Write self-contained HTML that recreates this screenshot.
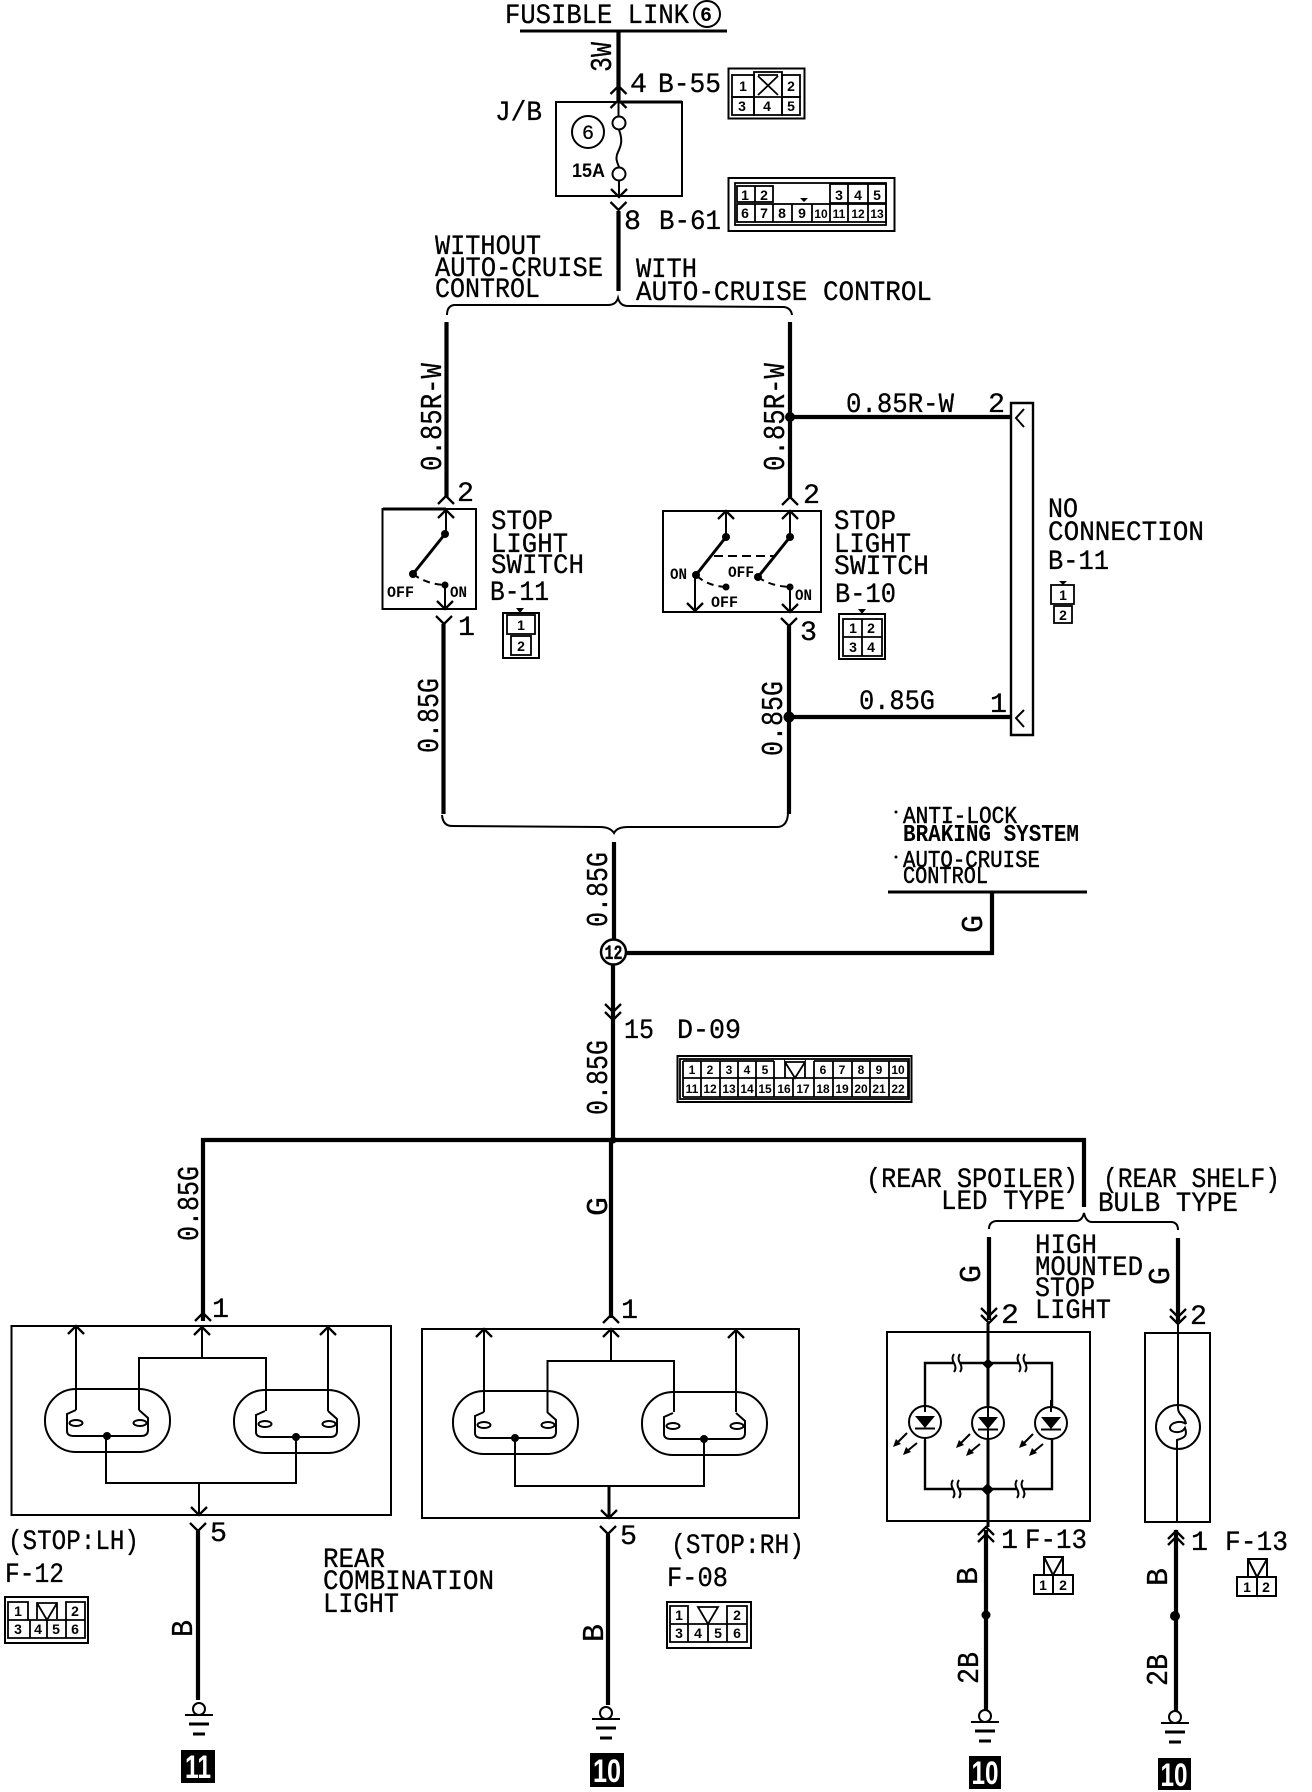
<!DOCTYPE html>
<html><head><meta charset="utf-8"><title>Stop light circuit diagram</title>
<style>
html,body{margin:0;padding:0;background:#fff}
svg{display:block}
text{font-family:"Liberation Mono",monospace;font-size:28px;fill:#000;stroke:#000;stroke-width:.3}
.r{font-size:31px}
.s{font-size:24px;font-weight:bold;stroke:none}
.d{font-family:"Liberation Sans",sans-serif;font-size:14px;font-weight:bold;text-anchor:middle;stroke:none}
.o{font-family:"Liberation Mono",monospace;font-size:16px;font-weight:bold;stroke:none}
.w{font-family:"Liberation Sans",sans-serif;font-size:32px;font-weight:bold;fill:#fff;stroke:none;text-anchor:middle}
.l{fill:none;stroke:#000;stroke-width:2}
.t{fill:none;stroke:#000;stroke-width:4.2}
.m{fill:none;stroke:#000;stroke-width:3}
.c{fill:none;stroke:#000;stroke-width:1.8}
.a{fill:none;stroke:#000;stroke-width:2.3}
</style></head><body>
<svg xmlns="http://www.w3.org/2000/svg" width="1312" height="1792" viewBox="0 0 1312 1792">
<defs>
<path id="v" class="a" d="M-8,-8 L0,0 L8,-8"/>
<path id="u" class="a" d="M-8,8 L0,0 L8,8"/>
<g id="sq"><rect x="-3" y="-5" width="6" height="10" fill="#fff"/><path class="l" d="M-3,-9 Q-6,-5 -3,0 Q0,5 -3,9 M3,-9 Q0,-5 3,0 Q6,5 3,9"/></g>
<g id="bulb">
<rect class="l" x="45" y="1389" width="125" height="63" rx="31" ry="31"/>
<path class="l" d="M76,1410 L67,1414 V1431 Q67,1436 74,1436 H141 Q148,1436 148,1430 V1418 L139,1410"/>
<ellipse class="l" cx="76" cy="1423" rx="6.5" ry="3"/><ellipse class="l" cx="140" cy="1423" rx="6.5" ry="3"/>
<circle cx="107" cy="1436" r="4"/>
</g>
<g id="led">
<circle class="l" r="16"/>
<path d="M-10,-6 H10 L0,6 Z"/>
<path class="l" d="M-10,6.5 H10"/>
<path class="l" d="M-18,11 L-29,22"/><path d="M-32,25 L-29,17 L-24,22 Z"/>
<path class="l" d="M-8,21 L-19,30"/><path d="M-22,33 L-19,25 L-14,30 Z"/>
</g>
<g id="gnd">
<path class="l" d="M-14,0 H14"/>
<path class="m" d="M-10,9 H10"/>
<path class="m" d="M-6,19 H6"/>
<circle class="l" cx="0" cy="-6" r="6" fill="#fff"/>
</g>
</defs>
<rect width="1312" height="1792" fill="#fff"/>

<!-- Top -->
<text x="505" y="23" textLength="184" lengthAdjust="spacingAndGlyphs">FUSIBLE LINK</text>
<circle class="l" cx="707" cy="14" r="13"/><text x="700" y="21" class="s" style="font-size:20px" >6</text>
<path class="m" d="M520,31 H727"/>
<path class="t" d="M618.5,31 V100"/>
<text class="r" transform="translate(611,72) rotate(-90)" textLength="30" lengthAdjust="spacingAndGlyphs">3W</text>
<use href="#u" x="618.5" y="86"/><use href="#u" x="618.5" y="100"/>
<text x="630" y="92" textLength="17" lengthAdjust="spacingAndGlyphs">4</text>
<text x="658" y="92" textLength="63" lengthAdjust="spacingAndGlyphs">B-55</text>
<text x="495" y="120" textLength="47" lengthAdjust="spacingAndGlyphs">J/B</text>
<!-- B-55 -->
<g class="c"><rect class="m" style="stroke-width:2" x="728.5" y="68.5" width="76" height="50"/>
<rect class="c" x="732" y="75" width="22" height="22"/><rect class="c" x="754" y="72" width="28" height="43"/><rect class="c" x="782" y="75" width="18" height="22"/>
<rect class="c" x="732" y="97" width="22" height="18"/><rect class="c" x="782" y="97" width="18" height="18"/>
<path class="c" d="M754,97 H782 M758,76 L778,95 M778,76 L758,95 M758,75 H778"/></g>
<text class="d" x="743" y="91">1</text><text class="d" x="791" y="91">2</text><text class="d" x="742" y="111">3</text><text class="d" x="767" y="111">4</text><text class="d" x="791" y="111">5</text>
<!-- J/B -->
<rect class="l" x="556" y="102" width="126" height="94"/><path class="m" d="M618,102 H682"/>
<circle class="l" cx="588" cy="132" r="16"/><text x="582" y="139" style="font-size:20px">6</text>
<path class="l" d="M618.5,100 V116 M619,130 C623,140 621,146 618,152 C615,158 617,162 619,167 M619,181 V197"/>
<circle class="l" cx="619" cy="123" r="6.5"/><circle class="l" cx="619" cy="174" r="6.5"/>
<text class="s" x="572" y="177" textLength="33" lengthAdjust="spacingAndGlyphs" style="font-family:'Liberation Sans',sans-serif;font-size:19px">15A</text>
<use href="#v" x="619" y="197"/><use href="#v" x="618.5" y="210"/>
<path class="t" d="M618.5,211 V291"/>
<text x="624" y="229" textLength="17" lengthAdjust="spacingAndGlyphs">8</text>
<text x="659" y="229" textLength="62" lengthAdjust="spacingAndGlyphs">B-61</text>
<!-- B-61 -->
<rect class="l" x="728.5" y="178" width="166" height="53"/>
<rect class="c" x="735" y="183" width="151" height="42"/>
<g class="c"><rect class="c" x="737" y="186" width="36" height="16"/><path class="c" d="M755,186 V202"/>
<rect class="c" x="830" y="184" width="56" height="19"/><path class="c" d="M848,184 V203 M868,184 V203"/>
<rect class="c" x="737" y="204" width="149" height="18"/><path class="c" d="M755,204 V222 M773,204 V222 M792,204 V222 M812,204 V222 M830,204 V222 M848,204 V222 M868,204 V222"/></g>
<path d="M800,198 H808 L804,202 Z"/>
<text class="d" x="745" y="200">1</text><text class="d" x="764" y="200">2</text>
<text class="d" x="839" y="200">3</text><text class="d" x="858" y="200">4</text><text class="d" x="877" y="200">5</text>
<text class="d" x="745" y="218">6</text><text class="d" x="764" y="218">7</text><text class="d" x="782" y="218">8</text><text class="d" x="802" y="218">9</text><text class="d" x="821" y="218" style="font-size:12px">10</text><text class="d" x="839" y="218" style="font-size:12px">11</text><text class="d" x="858" y="218" style="font-size:12px">12</text><text class="d" x="877" y="218" style="font-size:12px">13</text>

<text x="435" y="254" textLength="106" lengthAdjust="spacingAndGlyphs">WITHOUT</text>
<text x="435" y="276" textLength="168" lengthAdjust="spacingAndGlyphs">AUTO-CRUISE</text>
<text x="435" y="297" textLength="105" lengthAdjust="spacingAndGlyphs">CONTROL</text>
<text x="636" y="277" textLength="61" lengthAdjust="spacingAndGlyphs">WITH</text>
<text x="636" y="300" textLength="296" lengthAdjust="spacingAndGlyphs">AUTO-CRUISE CONTROL</text>
<path class="l" d="M447,315 Q447,306 454,305 L608,305 Q616,305 618,298 Q620,306 628,306 L784,307 Q791,308 792,315"/>

<!-- Switch row wires -->
<path class="t" d="M446.5,322 V497"/><path class="t" d="M790,322 V497"/>
<text class="r" transform="translate(441,471) rotate(-90)" textLength="108" lengthAdjust="spacingAndGlyphs">0.85R-W</text>
<text class="r" transform="translate(784,471) rotate(-90)" textLength="108" lengthAdjust="spacingAndGlyphs">0.85R-W</text>
<path class="t" d="M790,417 H1010"/><circle cx="790" cy="417" r="5"/>
<text x="846" y="412" textLength="108" lengthAdjust="spacingAndGlyphs">0.85R-W</text>
<text x="988" y="412" textLength="17" lengthAdjust="spacingAndGlyphs">2</text>
<path class="m" style="stroke-width:2.4" d="M1011,735 V403 H1033 V735 Z"/>
<path class="l" d="M1024,409 L1016,418 L1024,427"/>
<path class="l" d="M1024,710 L1016,718 L1024,727"/>
<text x="1048" y="517" textLength="30" lengthAdjust="spacingAndGlyphs">NO</text>
<text x="1048" y="540" textLength="156" lengthAdjust="spacingAndGlyphs">CONNECTION</text>
<text x="1048" y="569" textLength="61" lengthAdjust="spacingAndGlyphs">B-11</text>
<path d="M1059,581 H1067 L1063,585 Z"/>
<rect class="c" x="1051" y="585" width="23" height="19"/><rect class="c" x="1054" y="606" width="18" height="17"/>
<text class="d" x="1063" y="600">1</text><text class="d" x="1063" y="620">2</text>

<!-- Left switch -->
<rect class="l" x="382.5" y="509" width="93.5" height="100"/><path class="m" d="M383,509 H446"/>
<use href="#u" x="446" y="496"/><use href="#u" x="446" y="510"/>
<text x="457" y="501" textLength="17" lengthAdjust="spacingAndGlyphs">2</text>
<path class="l" d="M446,510 V534"/><circle cx="445" cy="534" r="4"/>
<path class="m" d="M445,534 L413,574"/><circle cx="413" cy="574" r="4"/>
<path class="l" stroke-dasharray="7 5" d="M413,574 Q426,584 445,585"/><circle cx="445" cy="585" r="3.5"/>
<path class="l" d="M445,585 V609"/>
<text class="o" x="387" y="597" textLength="27" lengthAdjust="spacingAndGlyphs">OFF</text>
<text class="o" x="450" y="597" textLength="17" lengthAdjust="spacingAndGlyphs">ON</text>
<use href="#v" x="445" y="609"/><use href="#v" x="444" y="624"/>
<text x="458" y="635" textLength="17" lengthAdjust="spacingAndGlyphs">1</text>
<path class="t" d="M443.5,624 V814"/>
<text x="491" y="529" textLength="62" lengthAdjust="spacingAndGlyphs">STOP</text>
<text x="491" y="552" textLength="77" lengthAdjust="spacingAndGlyphs">LIGHT</text>
<text x="491" y="573" textLength="93" lengthAdjust="spacingAndGlyphs">SWITCH</text>
<text x="490" y="600" textLength="59" lengthAdjust="spacingAndGlyphs">B-11</text>
<path d="M516,608 H524 L520,613 Z"/>
<rect class="l" x="503" y="613" width="36" height="45"/>
<rect class="c" x="507" y="615" width="28" height="19"/><rect class="c" x="511" y="636" width="20" height="19"/>
<text class="d" x="521" y="630">1</text><text class="d" x="521" y="651">2</text>
<text class="r" transform="translate(438,753) rotate(-90)" textLength="75" lengthAdjust="spacingAndGlyphs">0.85G</text>

<!-- Right switch -->
<rect class="l" x="663" y="511" width="158" height="101"/>
<use href="#u" x="790" y="497"/><use href="#u" x="790" y="511"/><use href="#u" x="726" y="511"/>
<text x="803" y="503" textLength="17" lengthAdjust="spacingAndGlyphs">2</text>
<path class="l" d="M726,512 V537 M790,512 V537 M695,575 V611 M790,587 V612"/>
<circle cx="726" cy="537" r="4"/><circle cx="790" cy="537" r="4"/>
<path class="m" d="M726,537 L696,575 M790,537 L758,577"/>
<circle cx="696" cy="575" r="4"/><circle cx="758" cy="577" r="4"/>
<path class="l" stroke-dasharray="9 5" d="M714,556 H774"/>
<path class="l" stroke-dasharray="7 5" d="M697,576 Q708,586 726,587 M758,577 Q770,586 790,587"/>
<circle cx="726" cy="587" r="3.5"/><circle cx="790" cy="587" r="3.5"/>
<use href="#v" x="695" y="611"/><use href="#v" x="790" y="612"/><use href="#v" x="789" y="626"/>
<text class="o" x="670" y="579" textLength="17" lengthAdjust="spacingAndGlyphs">ON</text>
<text class="o" x="728" y="577" textLength="26" lengthAdjust="spacingAndGlyphs">OFF</text>
<text class="o" x="711" y="607" textLength="27" lengthAdjust="spacingAndGlyphs">OFF</text>
<text class="o" x="795" y="600" textLength="17" lengthAdjust="spacingAndGlyphs">ON</text>
<text x="800" y="640" textLength="17" lengthAdjust="spacingAndGlyphs">3</text>
<path class="t" d="M789,626 V814"/>
<text x="834" y="529" textLength="62" lengthAdjust="spacingAndGlyphs">STOP</text>
<text x="834" y="552" textLength="77" lengthAdjust="spacingAndGlyphs">LIGHT</text>
<text x="834" y="574" textLength="95" lengthAdjust="spacingAndGlyphs">SWITCH</text>
<text x="835" y="602" textLength="61" lengthAdjust="spacingAndGlyphs">B-10</text>
<path d="M858,609 H866 L862,614 Z"/>
<rect class="l" x="839" y="614" width="46" height="45"/>
<rect class="c" x="843" y="619" width="39" height="37"/><path class="c" d="M862,619 V656 M843,637 H882"/>
<text class="d" x="853" y="633">1</text><text class="d" x="871" y="633">2</text><text class="d" x="853" y="652">3</text><text class="d" x="871" y="652">4</text>
<text class="r" transform="translate(782,756) rotate(-90)" textLength="75" lengthAdjust="spacingAndGlyphs">0.85G</text>
<path class="t" d="M789,717 H1010"/><circle cx="789" cy="717" r="5.5"/>
<text x="859" y="709" textLength="76" lengthAdjust="spacingAndGlyphs">0.85G</text>
<text x="990" y="712" textLength="17" lengthAdjust="spacingAndGlyphs">1</text>

<!-- Lower brace & junction -->
<path class="l" d="M442,815 Q443,826 452,826 L600,827 Q610,827 614,833 Q617,827 628,827 L778,827 Q788,826 788,812"/>
<path class="t" d="M614,842 V940 M613,965 V1140"/>
<text class="r" transform="translate(607,927) rotate(-90)" textLength="75" lengthAdjust="spacingAndGlyphs">0.85G</text>
<circle cx="613.5" cy="952" r="12.5" fill="#fff" stroke="#000" stroke-width="2.5"/>
<text x="604.5" y="959" textLength="18" lengthAdjust="spacingAndGlyphs" style="font-size:20px;font-weight:bold">12</text>
<path class="t" d="M626,953 H992 V893"/>
<path class="m" d="M888,892 H1087"/>
<text class="r" transform="translate(982,933) rotate(-90)" textLength="18" lengthAdjust="spacingAndGlyphs">G</text>
<circle cx="896" cy="812" r="1.5"/><circle cx="896" cy="857" r="1.5"/>
<text class="s" x="903" y="823" textLength="114" lengthAdjust="spacingAndGlyphs" style="font-weight:normal;stroke:#000;stroke-width:.5">ANTI-LOCK</text>
<text class="s" x="903" y="841" textLength="176" lengthAdjust="spacingAndGlyphs">BRAKING SYSTEM</text>
<text class="s" x="903" y="867" textLength="137" lengthAdjust="spacingAndGlyphs" style="font-weight:normal;stroke:#000;stroke-width:.5">AUTO-CRUISE</text>
<text class="s" x="903" y="883" textLength="85" lengthAdjust="spacingAndGlyphs" style="font-weight:normal;stroke:#000;stroke-width:.5">CONTROL</text>

<use href="#v" x="613" y="1012"/><use href="#v" x="613" y="1020"/>
<text x="624" y="1038" textLength="30" lengthAdjust="spacingAndGlyphs">15</text>
<text x="677" y="1038" textLength="64" lengthAdjust="spacingAndGlyphs">D-09</text>
<text class="r" transform="translate(607,1115) rotate(-90)" textLength="75" lengthAdjust="spacingAndGlyphs">0.85G</text>
<!-- D-09 -->
<rect class="l" x="677.5" y="1056" width="234" height="46"/>
<rect class="c" x="680" y="1059" width="229" height="40"/>
<path class="c" d="M683,1078 H908 M683,1061 H774 M814,1061 H908 M683,1061 V1097 M701,1061 V1097 M720,1061 V1097 M738,1061 V1097 M756,1061 V1097 M774,1061 V1097 M793,1078 V1097 M814,1061 V1097 M833,1061 V1097 M852,1061 V1097 M870,1061 V1097 M889,1061 V1097 M908,1061 V1097 M683,1097 H908"/>
<path class="c" d="M785,1078 V1062 L795,1078 L805,1062 V1078 M785,1062 H805"/>
<g style="font-size:12px"><text class="d" style="font-size:12px" x="692" y="1074">1</text><text class="d" style="font-size:12px" x="710" y="1074">2</text><text class="d" style="font-size:12px" x="729" y="1074">3</text><text class="d" style="font-size:12px" x="747" y="1074">4</text><text class="d" style="font-size:12px" x="765" y="1074">5</text><text class="d" style="font-size:12px" x="823" y="1074">6</text><text class="d" style="font-size:12px" x="842" y="1074">7</text><text class="d" style="font-size:12px" x="861" y="1074">8</text><text class="d" style="font-size:12px" x="879" y="1074">9</text><text class="d" style="font-size:12px" x="898" y="1074">10</text>
<text class="d" style="font-size:12px" x="692" y="1093">11</text><text class="d" style="font-size:12px" x="710" y="1093">12</text><text class="d" style="font-size:12px" x="729" y="1093">13</text><text class="d" style="font-size:12px" x="747" y="1093">14</text><text class="d" style="font-size:12px" x="765" y="1093">15</text><text class="d" style="font-size:12px" x="784" y="1093">16</text><text class="d" style="font-size:12px" x="803" y="1093">17</text><text class="d" style="font-size:12px" x="823" y="1093">18</text><text class="d" style="font-size:12px" x="842" y="1093">19</text><text class="d" style="font-size:12px" x="861" y="1093">20</text><text class="d" style="font-size:12px" x="879" y="1093">21</text><text class="d" style="font-size:12px" x="898" y="1093">22</text></g>

<!-- Bus -->
<path class="t" d="M203,1321 V1140 H1084 V1207"/>
<circle cx="613" cy="1140" r="3.5"/>
<path class="t" d="M611,1140 V1318"/>
<text class="r" transform="translate(198,1241) rotate(-90)" textLength="75" lengthAdjust="spacingAndGlyphs">0.85G</text>
<text class="r" transform="translate(607,1216) rotate(-90)" textLength="19" lengthAdjust="spacingAndGlyphs">G</text>
<text x="212" y="1317" textLength="17" lengthAdjust="spacingAndGlyphs">1</text>
<text x="621" y="1318" textLength="17" lengthAdjust="spacingAndGlyphs">1</text>

<!-- Left lamp -->
<rect class="l" x="11.5" y="1326" width="379.5" height="189"/>
<use href="#u" x="203" y="1313"/><use href="#u" x="202" y="1327"/><use href="#u" x="76" y="1326"/><use href="#u" x="328" y="1327"/>
<path class="l" d="M76,1326 V1410 M202,1327 V1358 M328,1327 V1411 M139,1410 V1358 H266 V1411 M106,1436 V1483 H296 V1437 M199,1483 V1515"/>
<use href="#bulb"/><use href="#bulb" x="189" y="1"/>
<use href="#v" x="199" y="1515"/><use href="#v" x="198" y="1531"/>
<path class="t" d="M198,1531 V1700"/>
<text x="210" y="1541" textLength="17" lengthAdjust="spacingAndGlyphs">5</text>
<text x="8" y="1549" textLength="131" lengthAdjust="spacingAndGlyphs">(STOP:LH)</text>
<text x="5" y="1582" textLength="59" lengthAdjust="spacingAndGlyphs">F-12</text>
<rect class="l" x="5" y="1597" width="83" height="46"/>
<path class="c" d="M8,1602 H28 V1620 H8 Z M66,1602 H85 V1620 H66 Z M8,1620 H85 V1638 H8 Z M30,1620 V1638 M47,1620 V1638 M66,1620 V1638"/>
<path class="c" d="M37,1619 V1603 H57 V1619 M37,1603 L47,1620 L57,1603"/>
<text class="d" x="18" y="1616">1</text><text class="d" x="75" y="1616">2</text><text class="d" x="18" y="1634">3</text><text class="d" x="38" y="1634">4</text><text class="d" x="56" y="1634">5</text><text class="d" x="75" y="1634">6</text>
<text x="323" y="1567" textLength="62" lengthAdjust="spacingAndGlyphs">REAR</text>
<text x="323" y="1589" textLength="171" lengthAdjust="spacingAndGlyphs">COMBINATION</text>
<text x="323" y="1612" textLength="76" lengthAdjust="spacingAndGlyphs">LIGHT</text>
<text class="r" transform="translate(192,1637) rotate(-90)" textLength="17" lengthAdjust="spacingAndGlyphs">B</text>
<use href="#gnd" x="199" y="1715"/>
<rect x="181" y="1750" width="34" height="33"/><text class="w" x="198" y="1778" textLength="26" lengthAdjust="spacingAndGlyphs">11</text>

<!-- Right lamp -->
<rect class="l" x="422" y="1329" width="377" height="189"/>
<use href="#u" x="611" y="1315"/><use href="#u" x="611" y="1329"/><use href="#u" x="484" y="1329"/><use href="#u" x="736" y="1330"/>
<path class="l" d="M484,1329 V1412 M736,1330 V1412 M611,1329 V1361 M547.5,1412 V1361 H674 V1412 M515,1438 V1486 H704 V1439"/>
<path class="m" d="M609,1486 V1518"/>
<use href="#bulb" x="408" y="2"/><use href="#bulb" x="597" y="3"/>
<use href="#v" x="609" y="1518"/><use href="#v" x="608" y="1534"/>
<path class="t" d="M608,1534 V1705"/>
<text x="620" y="1544" textLength="17" lengthAdjust="spacingAndGlyphs">5</text>
<text x="671" y="1553" textLength="133" lengthAdjust="spacingAndGlyphs">(STOP:RH)</text>
<text x="667" y="1586" textLength="61" lengthAdjust="spacingAndGlyphs">F-08</text>
<rect class="l" x="667" y="1602" width="84" height="46"/>
<path class="c" d="M670,1606 H688 V1624 H670 Z M727,1606 H747 V1624 H727 Z M670,1624 H747 V1642 H670 Z M688,1624 V1642 M708,1624 V1642 M727,1624 V1642"/>
<path class="c" d="M698,1607 H718 L708,1624 Z"/>
<text class="d" x="679" y="1620">1</text><text class="d" x="737" y="1620">2</text><text class="d" x="679" y="1638">3</text><text class="d" x="698" y="1638">4</text><text class="d" x="718" y="1638">5</text><text class="d" x="737" y="1638">6</text>
<text class="r" transform="translate(603,1642) rotate(-90)" textLength="18" lengthAdjust="spacingAndGlyphs">B</text>
<use href="#gnd" x="606" y="1719"/>
<rect x="590" y="1753" width="34" height="34"/><text class="w" x="607" y="1782" textLength="28" lengthAdjust="spacingAndGlyphs">10</text>

<!-- High mounted stop light -->
<text x="866" y="1187" textLength="212" lengthAdjust="spacingAndGlyphs">(REAR SPOILER)</text>
<text x="1103" y="1187" textLength="177" lengthAdjust="spacingAndGlyphs">(REAR SHELF)</text>
<text x="941" y="1209" textLength="124" lengthAdjust="spacingAndGlyphs">LED TYPE</text>
<text x="1098" y="1211" textLength="140" lengthAdjust="spacingAndGlyphs">BULB TYPE</text>
<path class="l" d="M989,1229 Q989,1222 996,1221 L1076,1221 Q1082,1221 1084,1213 Q1086,1222 1092,1222 L1172,1222 Q1178,1223 1178,1230"/>
<path class="t" d="M989,1237 V1320 M1178,1238 V1322"/>
<text class="r" transform="translate(980,1283) rotate(-90)" textLength="18" lengthAdjust="spacingAndGlyphs">G</text>
<text class="r" transform="translate(1169,1285) rotate(-90)" textLength="18" lengthAdjust="spacingAndGlyphs">G</text>
<use href="#v" x="989" y="1316"/><use href="#v" x="989" y="1323"/><use href="#v" x="1178" y="1317"/><use href="#v" x="1178" y="1324"/>
<text x="1001" y="1323" textLength="18" lengthAdjust="spacingAndGlyphs">2</text>
<text x="1190" y="1324" textLength="17" lengthAdjust="spacingAndGlyphs">2</text>
<text x="1035" y="1253" textLength="62" lengthAdjust="spacingAndGlyphs">HIGH</text>
<text x="1035" y="1275" textLength="108" lengthAdjust="spacingAndGlyphs">MOUNTED</text>
<text x="1035" y="1296" textLength="60" lengthAdjust="spacingAndGlyphs">STOP</text>
<text x="1035" y="1318" textLength="76" lengthAdjust="spacingAndGlyphs">LIGHT</text>

<rect class="l" x="887" y="1332" width="203" height="189"/>
<path class="m" d="M988,1323 V1527"/>
<path class="m" style="stroke-width:2.4" d="M925,1406 V1363 H1052 V1406 M925,1440 V1489 H1052 V1440"/>
<path class="l" d="M1052,1406 V1440 M925,1406 V1440"/>
<rect x="984" y="1360" width="8" height="8" transform="rotate(45 988 1364)" fill="#000"/>
<rect x="983" y="1485" width="9" height="9" transform="rotate(45 987.5 1489.5)" fill="#000"/>
<use href="#sq" x="957" y="1363"/><use href="#sq" x="1022" y="1363"/><use href="#sq" x="956" y="1489"/><use href="#sq" x="1020" y="1489"/>
<g fill="#fff"><circle cx="925" cy="1422" r="16"/><circle cx="988" cy="1423" r="16"/><circle cx="1051" cy="1423" r="16"/></g>
<use href="#led" x="925" y="1422"/><use href="#led" x="988" y="1423"/><use href="#led" x="1051" y="1423"/>
<path class="l" d="M925,1400 V1412 M988,1400 V1446 M1051,1400 V1412"/>

<rect class="l" x="1145" y="1333" width="65" height="189"/>
<path class="l" d="M1178,1324 V1408 C1178,1415 1185,1416 1186,1424 M1177,1450 V1522"/>
<circle class="l" cx="1178" cy="1427" r="22"/>
<path class="l" d="M1186,1424 C1182,1420 1170,1422 1170,1428 C1170,1433 1182,1434 1185,1428 C1188,1436 1184,1438 1177,1440 V1450"/>

<use href="#u" x="986" y="1527"/><use href="#u" x="986" y="1534"/><use href="#u" x="1176" y="1531"/><use href="#u" x="1176" y="1537"/>
<path class="t" d="M986,1530 V1710 M1176,1530 V1712"/>
<circle cx="986" cy="1615" r="4.5"/><circle cx="1175" cy="1616" r="5"/>
<text x="1001" y="1548" textLength="17" lengthAdjust="spacingAndGlyphs">1</text>
<text x="1025" y="1548" textLength="62" lengthAdjust="spacingAndGlyphs">F-13</text>
<text x="1191" y="1550" textLength="17" lengthAdjust="spacingAndGlyphs">1</text>
<text x="1225" y="1550" textLength="63" lengthAdjust="spacingAndGlyphs">F-13</text>
<path class="l" d="M1044,1575 V1557 H1063 V1575 M1044,1557 L1053,1575 L1063,1557"/>
<rect class="l" x="1034" y="1575" width="39" height="19"/><path class="l" d="M1053,1575 V1594"/>
<text class="d" x="1043" y="1590">1</text><text class="d" x="1063" y="1590">2</text>
<path class="l" d="M1248,1577 V1559 H1267 V1577 M1248,1559 L1257,1577 L1267,1559"/>
<rect class="l" x="1237" y="1577" width="39" height="19"/><path class="l" d="M1257,1577 V1596"/>
<text class="d" x="1247" y="1592">1</text><text class="d" x="1266" y="1592">2</text>
<text class="r" transform="translate(977,1585) rotate(-90)" textLength="18" lengthAdjust="spacingAndGlyphs">B</text>
<text class="r" transform="translate(1167,1586) rotate(-90)" textLength="18" lengthAdjust="spacingAndGlyphs">B</text>
<text class="r" transform="translate(978,1684) rotate(-90)" textLength="32" lengthAdjust="spacingAndGlyphs">2B</text>
<text class="r" transform="translate(1167,1686) rotate(-90)" textLength="32" lengthAdjust="spacingAndGlyphs">2B</text>
<use href="#gnd" x="985" y="1722"/>
<use href="#gnd" x="1175" y="1723"/>
<rect x="969" y="1756" width="32" height="33"/><text class="w" x="985" y="1784" textLength="27" lengthAdjust="spacingAndGlyphs">10</text>
<rect x="1158" y="1758" width="33" height="32"/><text class="w" x="1174" y="1786" textLength="27" lengthAdjust="spacingAndGlyphs">10</text>
</svg>
</body></html>
